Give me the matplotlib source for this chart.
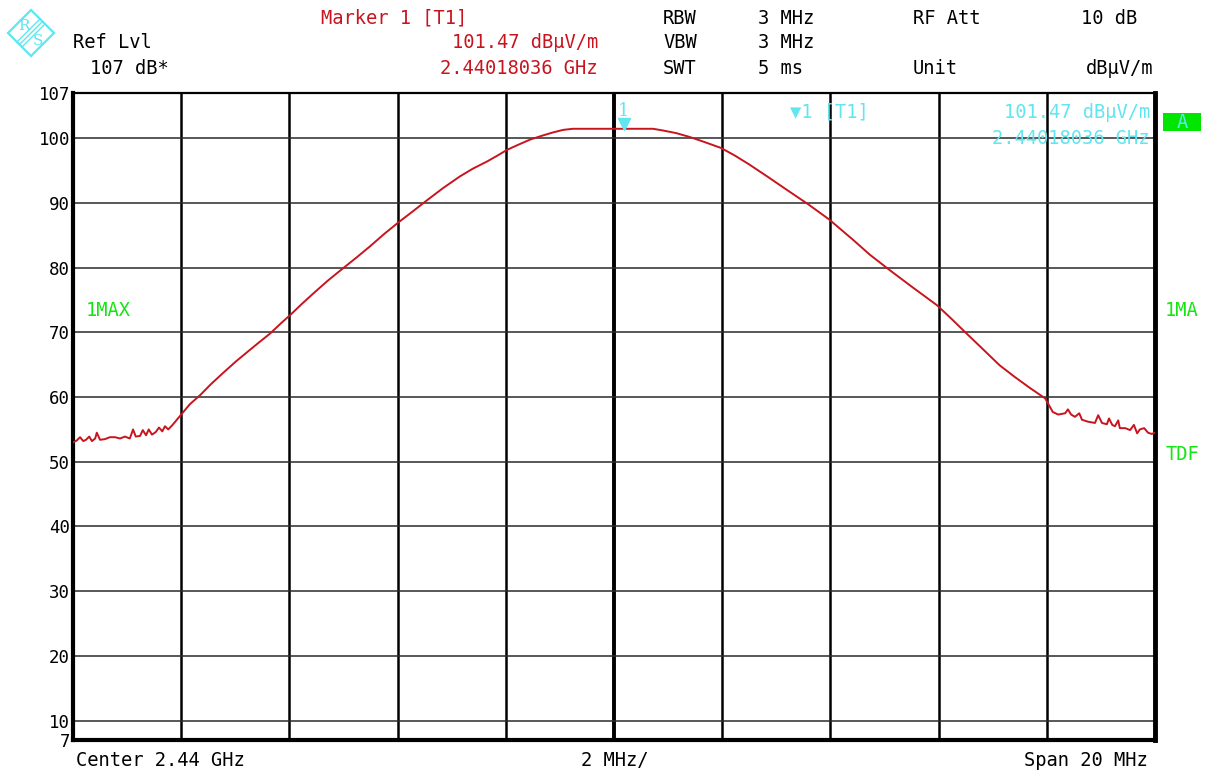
import matplotlib
matplotlib.use("Agg")
import matplotlib.pyplot as plt
from matplotlib.patches import Polygon, Rectangle
from matplotlib.transforms import offset_copy

# trace 1 (max hold): offset from the 2.44 GHz centre in MHz, level in dBuV/m
freq_mhz = [
    -10.00, -9.93, -9.87, -9.81, -9.76, -9.70, -9.65, -9.59, -9.56, -9.50,
    -9.41, -9.32, -9.22, -9.13, -9.04, -8.95, -8.89, -8.84, -8.76, -8.71,
    -8.65, -8.60, -8.54, -8.47, -8.41, -8.35, -8.30, -8.24, -8.17, -8.08,
    -7.97, -7.84, -7.65, -7.45, -7.23, -6.99, -6.73, -6.54, -6.36, -6.17,
    -5.97, -5.77, -5.56, -5.29, -5.01, -4.77, -4.51, -4.25, -3.97, -3.72,
    -3.46, -3.16, -2.85, -2.61, -2.35, -2.16, -1.98, -1.77, -1.55, -1.33,
    -1.13, -0.94, -0.76, -0.44, -0.07, 0.11, 0.39, 0.72, 0.91, 1.15,
    1.40, 1.68, 1.98, 2.24, 2.51, 2.85, 3.20, 3.59, 3.97, 4.42,
    4.73, 5.10, 5.53, 5.97, 6.25, 6.52, 6.82, 7.13, 7.41, 7.69,
    7.97, 8.11, 8.21, 8.34, 8.39, 8.45, 8.52, 8.60, 8.65, 8.76,
    8.89, 8.95, 9.02, 9.11, 9.15, 9.21, 9.26, 9.32, 9.35, 9.45,
    9.54, 9.61, 9.67, 9.72, 9.80, 9.87, 9.94, 10.00,
]
level_dbuv = [
    53.0, 53.3, 53.8, 53.2, 53.4, 53.9, 53.2, 53.6, 54.5, 53.4,
    53.5, 53.8, 53.8, 53.6, 53.9, 53.6, 55.0, 53.9, 54.0, 54.9,
    54.1, 55.0, 54.2, 54.6, 55.3, 54.7, 55.5, 55.0, 55.6, 56.5,
    57.6, 58.9, 60.3, 62.0, 63.7, 65.5, 67.3, 68.6, 69.8, 71.3,
    72.8, 74.4, 76.0, 78.0, 79.9, 81.5, 83.3, 85.2, 87.1, 88.7,
    90.4, 92.3, 94.1, 95.3, 96.4, 97.3, 98.2, 99.0, 99.8, 100.4,
    100.9, 101.3, 101.47, 101.47, 101.47, 101.47, 101.47, 101.47, 101.2, 100.8,
    100.2, 99.4, 98.5, 97.3, 95.9, 94.0, 92.0, 89.8, 87.5, 84.3,
    82.0, 79.6, 76.9, 74.2, 72.0, 69.8, 67.4, 64.9, 63.1, 61.4,
    59.8, 57.7, 57.3, 57.5, 58.1, 57.3, 56.95, 57.5, 56.5, 56.2,
    56.0, 57.2, 56.0, 55.8, 56.7, 55.7, 55.5, 56.4, 55.2, 55.2,
    54.9, 55.7, 54.4, 55.0, 55.2, 54.5, 54.3, 54.5,
]

marker_freq = 0.18036
marker_level = 101.47

y_ticks = [7, 10, 20, 30, 40, 50, 60, 70, 80, 90, 100, 107]
x_divs = [-10, -8, -6, -4, -2, 0, 2, 4, 6, 8, 10]

W, H = 1216, 771
MONO = "DejaVu Sans Mono"
FS = 13.5
RED = "#c8141e"
CYAN = "#5fe6f0"
GREEN = "#14e614"

fig = plt.figure(figsize=(W / 100, H / 100), dpi=100)
ax = fig.add_axes([73 / W, 1 - 740 / H, (1155 - 73) / W, (740 - 93) / H])

ax.set_xlim(-10, 10)
ax.set_ylim(7, 107)

# graticule: heavy verticals every 2 MHz, thinner horizontals every 10 dB
for x in x_divs:
    ax.axvline(x, color="black", lw=2.8 if x == 0 else 1.8, zorder=1)
for y in y_ticks:
    if y % 10 == 0:
        ax.axhline(y, color="#2a2a2a", lw=1.1, zorder=1)

ax.plot(freq_mhz, level_dbuv, color=RED, lw=1.4, zorder=3)

# marker 1 sits just above the trace
mk = offset_copy(ax.transData, fig=fig, x=0, y=5, units="dots")
ax.plot([marker_freq], [marker_level], marker="v", color=CYAN, ms=8,
        transform=mk, zorder=4, clip_on=False)
lbl = offset_copy(ax.transData, fig=fig, x=0, y=18, units="dots")
ax.text(marker_freq, marker_level, "1", color=CYAN, fontsize=13,
        family="DejaVu Serif", ha="center", va="center", transform=lbl)

ax.set_xticks([])
ax.set_yticks(y_ticks)
ax.set_yticklabels([str(v) for v in y_ticks], family=MONO, fontsize=12.5)
ax.tick_params(axis="y", length=0, pad=2)
ax.spines["left"].set_linewidth(3.0)
ax.spines["bottom"].set_linewidth(3.0)
ax.spines["right"].set_linewidth(3.5)
ax.spines["top"].set_linewidth(1.6)

# overlay in pixel coordinates for the annotation text around the screen
bg = fig.add_axes([0, 0, 1, 1])
bg.set_xlim(0, W)
bg.set_ylim(H, 0)
bg.axis("off")


def put(x, y, s, color="black", ha="left", fs=FS):
    bg.text(x, y, s, color=color, ha=ha, va="center", family=MONO, fontsize=fs)


# R&S logo: diamond with three stripes between the letters
cx, cy, r = 31, 33, 23
bg.add_patch(Polygon([(cx - r, cy), (cx, cy - r), (cx + r, cy), (cx, cy + r)],
                     closed=True, fill=False, edgecolor=CYAN, lw=1.6))
for d in (-2.5, 0, 2.5):
    bg.plot([cx - r / 2 + d, cx + r / 2 + d],
            [cy + r / 2 + d, cy - r / 2 + d], color=CYAN, lw=1.0)
bg.text(cx - 7, cy - 7, "R", color=CYAN, fontsize=11, family="DejaVu Serif",
        ha="center", va="center")
bg.text(cx + 7, cy + 8, "S", color=CYAN, fontsize=11, family="DejaVu Serif",
        ha="center", va="center")

# header
put(394, 18, "Marker 1 [T1]", RED, ha="center")
put(598, 43, "101.47 dB\u03bcV/m", RED, ha="right")
put(598, 69, "2.44018036 GHz", RED, ha="right")
put(73, 43, "Ref Lvl")
put(90, 69, "107 dB*")
put(663, 18, "RBW")
put(663, 43, "VBW")
put(663, 69, "SWT")
put(758, 18, "3 MHz")
put(758, 43, "3 MHz")
put(758, 69, "5 ms")
put(913, 18, "RF Att")
put(913, 69, "Unit")
put(1137, 18, "10 dB", ha="right")
put(1153, 69, "dB\u03bcV/m", ha="right")

# marker readout inside the screen
put(790, 112, "\u25bc1 [T1]", CYAN)
put(1150, 112, "101.47 dB\u03bcV/m", CYAN, ha="right")
put(1150, 139, "2.44018036 GHz", CYAN, ha="right")

# side annotations
put(86, 311, "1MAX", GREEN)
put(1165, 311, "1MA", GREEN)
put(1166, 455, "TDF", GREEN)
bg.add_patch(Rectangle((1163, 113), 38, 18, color="#00e600", lw=0))
put(1182, 122, "A", CYAN, ha="center")

# footer
put(76, 760, "Center 2.44 GHz")
put(615, 760, "2 MHz/", ha="center")
put(1148, 760, "Span 20 MHz", ha="right")

fig.savefig("out.png", dpi=100, facecolor="white")
